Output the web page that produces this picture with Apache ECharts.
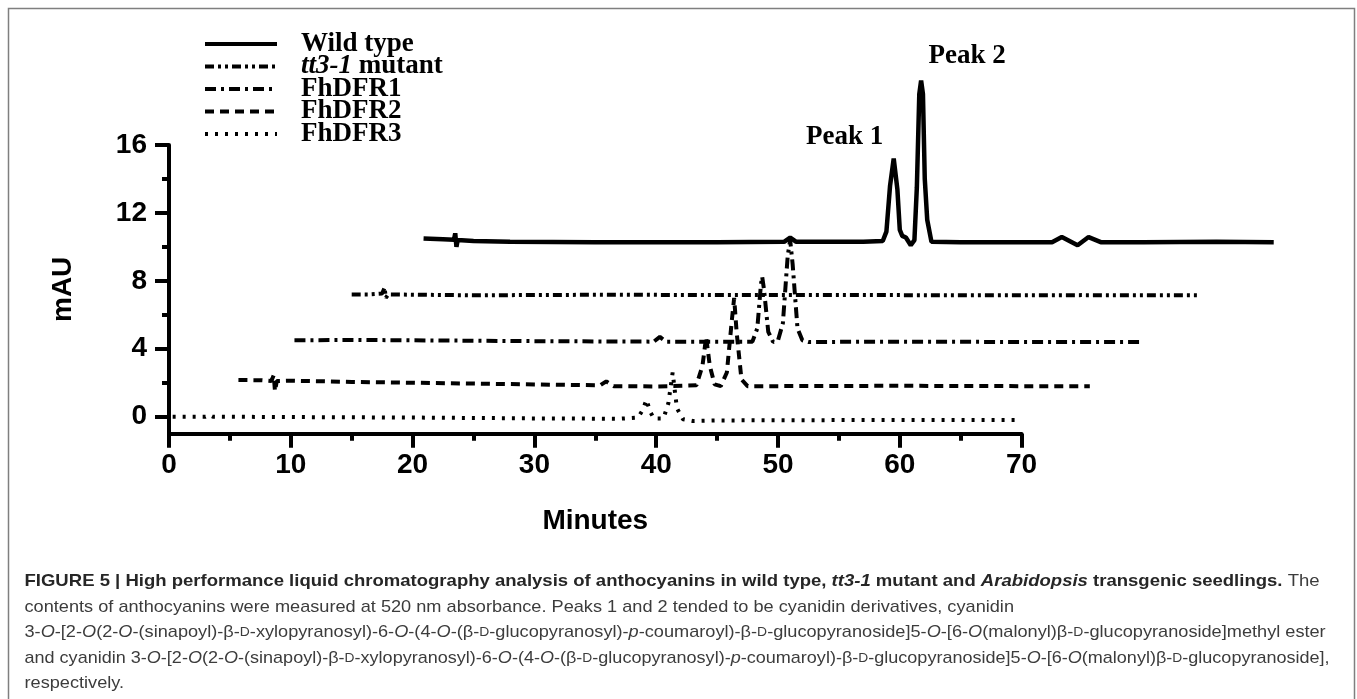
<!DOCTYPE html>
<html>
<head>
<meta charset="utf-8">
<script src="https://cdn.jsdelivr.net/npm/echarts@6/dist/echarts.min.js"></script>
<style>
html,body{margin:0;padding:0;background:#fff;}
#chart{width:1357px;height:699px;}
</style>
</head>
<body>
<div id="chart"></div>
<script>
// ---------- data (minutes, mAU) ----------
const wildType = [[20.9,10.5],[22.5,10.45],[23.4,10.42],[23.5,10.8],[23.6,10.0],[23.7,10.4],[25,10.35],[28,10.3],[35,10.28],[45,10.28],[50.5,10.3],[51.0,10.55],[51.5,10.3],[57,10.3],[58.6,10.35],[58.9,10.9],[59.2,13.6],[59.5,15.2],[59.8,13.4],[60.0,11.0],[60.2,10.65],[60.5,10.55],[60.9,10.1],[61.2,10.4],[61.4,13.5],[61.6,19.0],[61.75,19.8],[61.9,19.0],[62.05,14.0],[62.25,11.6],[62.6,10.3],[65,10.28],[72.5,10.28],[73.3,10.58],[74.6,10.1],[75.5,10.58],[76.5,10.28],[80,10.28],[86,10.3],[90.7,10.28]];
const tt3Mutant = [[15.0,7.2],[16.5,7.2],[17.5,7.25],[17.7,7.6],[17.8,7.0],[18.0,7.2],[25,7.15],[35,7.18],[45,7.17],[55,7.17],[65,7.15],[75,7.16],[84.6,7.15]];
const fhDFR1 = [[10.3,4.5],[15,4.52],[20,4.5],[30,4.45],[39.8,4.42],[40.3,4.7],[40.8,4.42],[44,4.42],[47.9,4.42],[48.3,5.2],[48.6,7.8],[48.7,8.25],[48.85,7.5],[49.2,5.0],[49.6,4.4],[50.0,4.5],[50.4,5.5],[50.8,9.5],[51.0,10.4],[51.2,9.0],[51.6,5.2],[52.0,4.5],[52.5,4.4],[60,4.42],[70,4.4],[80,4.4]];
const fhDFR2 = [[5.7,2.16],[7.5,2.15],[8.4,2.1],[8.6,2.45],[8.7,1.5],[8.85,2.1],[10,2.12],[15,2.05],[20,2.0],[25,1.95],[30,1.9],[35.4,1.85],[35.9,2.08],[36.5,1.8],[40,1.78],[43.3,1.85],[43.8,3.0],[44.1,4.7],[44.4,3.0],[44.8,1.9],[45.3,1.8],[45.8,2.6],[46.2,5.6],[46.4,7.0],[46.6,5.0],[47.0,2.2],[47.5,1.8],[50,1.8],[60,1.82],[70,1.8],[75.6,1.8]];
const fhDFR3 = [[0.3,0.0],[3.0,0.0],[3.3,0.1],[3.6,0.0],[10,-0.02],[20,-0.05],[30,-0.1],[37,-0.12],[38.5,-0.05],[38.9,0.4],[39.2,1.0],[39.5,0.3],[39.8,-0.1],[40.6,-0.1],[41.0,0.8],[41.35,2.6],[41.7,0.5],[42.2,-0.15],[43,-0.25],[45,-0.22],[55,-0.2],[65,-0.2],[69.7,-0.2]];
const seriesNames = ['Wild type','tt3-1 mutant','FhDFR1','FhDFR2','FhDFR3'];
const peakLabels = ['Peak 1','Peak 2'];
const peakCoords = [[59.5,15.2],[61.75,19.8]];
const xTickValues = [0,10,20,30,40,50,60,70];
const yTickValues = [0,4,8,12,16];
const yMinorTickValues = [2,6,10,14];

// ---------- layout ----------
const L = 169, PXX = 12.18, PXY = 16.98, Y0 = 416.7;
const serif = "'Liberation Serif','Times New Roman',serif";
const sans = "'Liberation Sans',Arial,sans-serif";

const chart = echarts.init(document.getElementById('chart'), null, {renderer:'canvas'});

const lineCommon = {type:'line', xAxisIndex:0, yAxisIndex:0, symbol:'none', showSymbol:false, animation:false, z:3};
const dashes = {
  'Wild type': 'solid',
  'tt3-1 mutant': [9,4,3,4,3,4],
  'FhDFR1': [11,5,3,5],
  'FhDFR2': [9,6],
  'FhDFR3': [3,7]
};
const datasets = [wildType, tt3Mutant, fhDFR1, fhDFR2, fhDFR3];
const series = datasets.map((d,i)=>Object.assign({}, lineCommon, {
  name: seriesNames[i],
  data: d,
  lineStyle: {color:'#000', width: i===0?4.5:4, type: dashes[seriesNames[i]]},
  itemStyle: {color:'#000'}
}));
series[0].markPoint = {
  symbol:'circle', symbolSize:1, itemStyle:{color:'rgba(0,0,0,0)'},
  label:{show:true, formatter:'{b}', color:'#000', fontFamily:serif, fontWeight:'bold', fontSize:27},
  data: [
    {name:peakLabels[0], coord:peakCoords[0], label:{offset:[-49,-22]}},
    {name:peakLabels[1], coord:peakCoords[1], label:{offset:[46,-24]}}
  ]
};

// ---------- caption ----------
const caption = [
  '{b|FIGURE 5 | High performance liquid chromatography analysis of anthocyanins in wild type, }{bi|tt3-1}{b| mutant and }{bi|Arabidopsis}{b| transgenic seedlings.}{r| The}',
  '{r|contents of anthocyanins were measured at 520 nm absorbance. Peaks 1 and 2 tended to be cyanidin derivatives, cyanidin}',
  '{r|3-}{i|O}{r|-[2-}{i|O}{r|(2-}{i|O}{r|-(sinapoyl)-β-}{sc|D}{r|-xylopyranosyl)-6-}{i|O}{r|-(4-}{i|O}{r|-(β-}{sc|D}{r|-glucopyranosyl)-}{i|p}{r|-coumaroyl)-β-}{sc|D}{r|-glucopyranoside]5-}{i|O}{r|-[6-}{i|O}{r|(malonyl)β-}{sc|D}{r|-glucopyranoside]methyl ester}',
  '{r|and cyanidin 3-}{i|O}{r|-[2-}{i|O}{r|(2-}{i|O}{r|-(sinapoyl)-β-}{sc|D}{r|-xylopyranosyl)-6-}{i|O}{r|-(4-}{i|O}{r|-(β-}{sc|D}{r|-glucopyranosyl)-}{i|p}{r|-coumaroyl)-β-}{sc|D}{r|-glucopyranoside]5-}{i|O}{r|-[6-}{i|O}{r|(malonyl)β-}{sc|D}{r|-glucopyranoside],}',
  '{r|respectively.}'
];
const capFS = 17;
// horizontal fit of caption font to the reference line width
const mctx = document.createElement('canvas').getContext('2d');
mctx.font = capFS + "px 'Liberation Sans'";
const plain2 = 'contents of anthocyanins were measured at 520 nm absorbance. Peaks 1 and 2 tended to be cyanidin derivatives, cyanidin';
const capScale = 989.5 / mctx.measureText(plain2).width;
const lineFit = [1.02, 1, 1, 0.993, 1];

const capRich = {
  b:{fontFamily:sans, fontWeight:'bold', fontSize:capFS, fill:'#262626'},
  bi:{fontFamily:sans, fontWeight:'bold', fontStyle:'italic', fontSize:capFS, fill:'#262626'},
  r:{fontFamily:sans, fontSize:capFS, fill:'#3c3c3c'},
  i:{fontFamily:sans, fontStyle:'italic', fontSize:capFS, fill:'#3c3c3c'},
  sc:{fontFamily:sans, fontSize:Math.round(capFS*0.76), fill:'#3c3c3c'}
};
const capY = [581.7, 607.3, 632.6, 658, 683.3];
const graphics = [
  {type:'rect', silent:true, shape:{x:8.5, y:8.5, width:1346, height:730}, style:{fill:'none', stroke:'#7f7f7f', lineWidth:1.5}}
].concat(caption.map((t,i)=>({
  type:'text', silent:true, x:24.5, y:capY[i], scaleX:capScale*lineFit[i],
  style:{text:t, rich:capRich, verticalAlign:'middle', align:'left', fontFamily:sans, fontSize:capFS}
})));

const axisFont = {fontFamily:sans, fontWeight:'bold', fontSize:28, color:'#000'};

chart.setOption({
  animation:false,
  backgroundColor:'#fff',
  grid:[
    {left:L, top:Y0-21*PXY, width:95*PXX, height:22*PXY, containLabel:false},
    {left:L, top:Y0-16*PXY, width:70*PXX, height:17*PXY, containLabel:false}
  ],
  xAxis:[
    {gridIndex:0, type:'value', min:0, max:95, show:false},
    {gridIndex:1, type:'value', min:0, max:70, interval:10,
     name:'Minutes', nameLocation:'middle', nameGap:74, nameTextStyle:axisFont,
     axisLine:{show:true, onZero:false, lineStyle:{color:'#000', width:4}},
     axisTick:{show:true, length:14, lineStyle:{color:'#000', width:4}},
     minorTick:{show:true, splitNumber:2, length:7, lineStyle:{color:'#000', width:4}},
     axisLabel:{show:true, margin:18, fontFamily:sans, fontWeight:'bold', fontSize:28, color:'#000',
       customValues:xTickValues},
     splitLine:{show:false}, minorSplitLine:{show:false}}
  ],
  yAxis:[
    {gridIndex:0, type:'value', min:-1, max:21, show:false},
    {gridIndex:1, type:'value', min:-1, max:16, position:'left',
     name:'mAU', nameLocation:'middle', nameGap:92, nameTextStyle:axisFont,
     axisLine:{show:true, onZero:false, lineStyle:{color:'#000', width:4}},
     axisTick:{show:true, length:14, lineStyle:{color:'#000', width:4}, customValues:yTickValues},
     axisLabel:{show:true, margin:22, fontFamily:sans, fontWeight:'bold', fontSize:28, color:'#000', customValues:yTickValues},
     splitLine:{show:false}},
    {gridIndex:1, type:'value', min:-1, max:16, position:'left',
     axisLine:{show:false},
     axisTick:{show:true, length:7, lineStyle:{color:'#000', width:4}, customValues:yMinorTickValues},
     axisLabel:{show:false},
     splitLine:{show:false}}
  ],
  legend:{
    show:true, orient:'vertical', left:203, top:30.5, padding:0,
    itemWidth:72, itemHeight:14, itemGap:-4.5,
    lineStyle:{width:4},
    itemStyle:{opacity:0},
    data:seriesNames,
    formatter:function(n){ return n==='tt3-1 mutant' ? '{i|tt3-1}{b| mutant}' : '{b|'+n+'}'; },
    textStyle:{fontFamily:serif, fontWeight:'bold', fontSize:27, color:'#000', padding:[0,0,0,19],
      rich:{
        b:{fontFamily:serif, fontWeight:'bold', fontSize:27, color:'#000'},
        i:{fontFamily:serif, fontWeight:'bold', fontStyle:'italic', fontSize:27, color:'#000'}
      }}
  },
  graphic:graphics,
  series:series
});
</script>
</body>
</html>
